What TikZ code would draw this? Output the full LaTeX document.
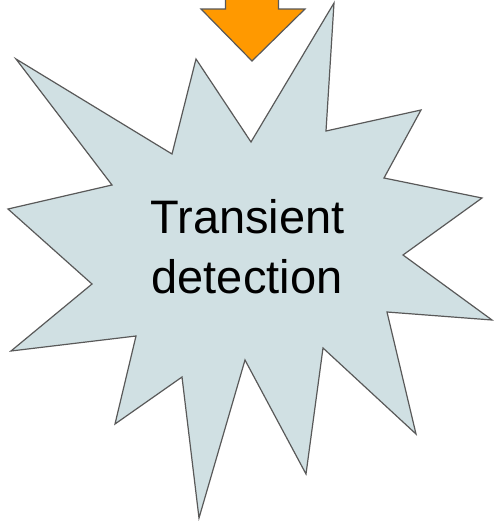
\documentclass[tikz,border=0pt]{standalone}
\usepackage{fontspec}
\setmainfont{Liberation Sans}
\definecolor{starfill}{HTML}{D0E0E3}
\definecolor{edge}{HTML}{595959}
\definecolor{orange}{HTML}{FF9900}
\begin{document}
\begin{tikzpicture}[x=1pt,y=-1pt,
  shapeline/.style={draw=edge,line width=1.2pt,line join=miter},
  label/.style={anchor=base,inner sep=0pt,font=\fontsize{47}{60}\selectfont}]
\useasboundingbox (0,0) rectangle (493,522);
% arrow
\path[shapeline,fill=orange] (225.5,-2) -- (278.5,-2) -- (278.5,9) -- (305,9) -- (252,61) -- (201,9) -- (225.5,9) -- cycle;
% star
\path[shapeline,fill=starfill]
 (334,3) -- (326,131) -- (421,110) -- (384,178) -- (482,198) -- (403,255)
 -- (492,320) -- (387,312) -- (416,434) -- (323,348) -- (306,474) -- (245,360)
 -- (199,518) -- (182,377) -- (115,424) -- (136,336) -- (11,351) -- (92,284)
 -- (8,209) -- (112,185) -- (16,59) -- (172,154) -- (196,59) -- (251,142) -- cycle;
\node[label] (l1) at (247.5,233) {Transient};
\node[label] (l2) at (247,293) {detection};
\end{tikzpicture}
\end{document}
